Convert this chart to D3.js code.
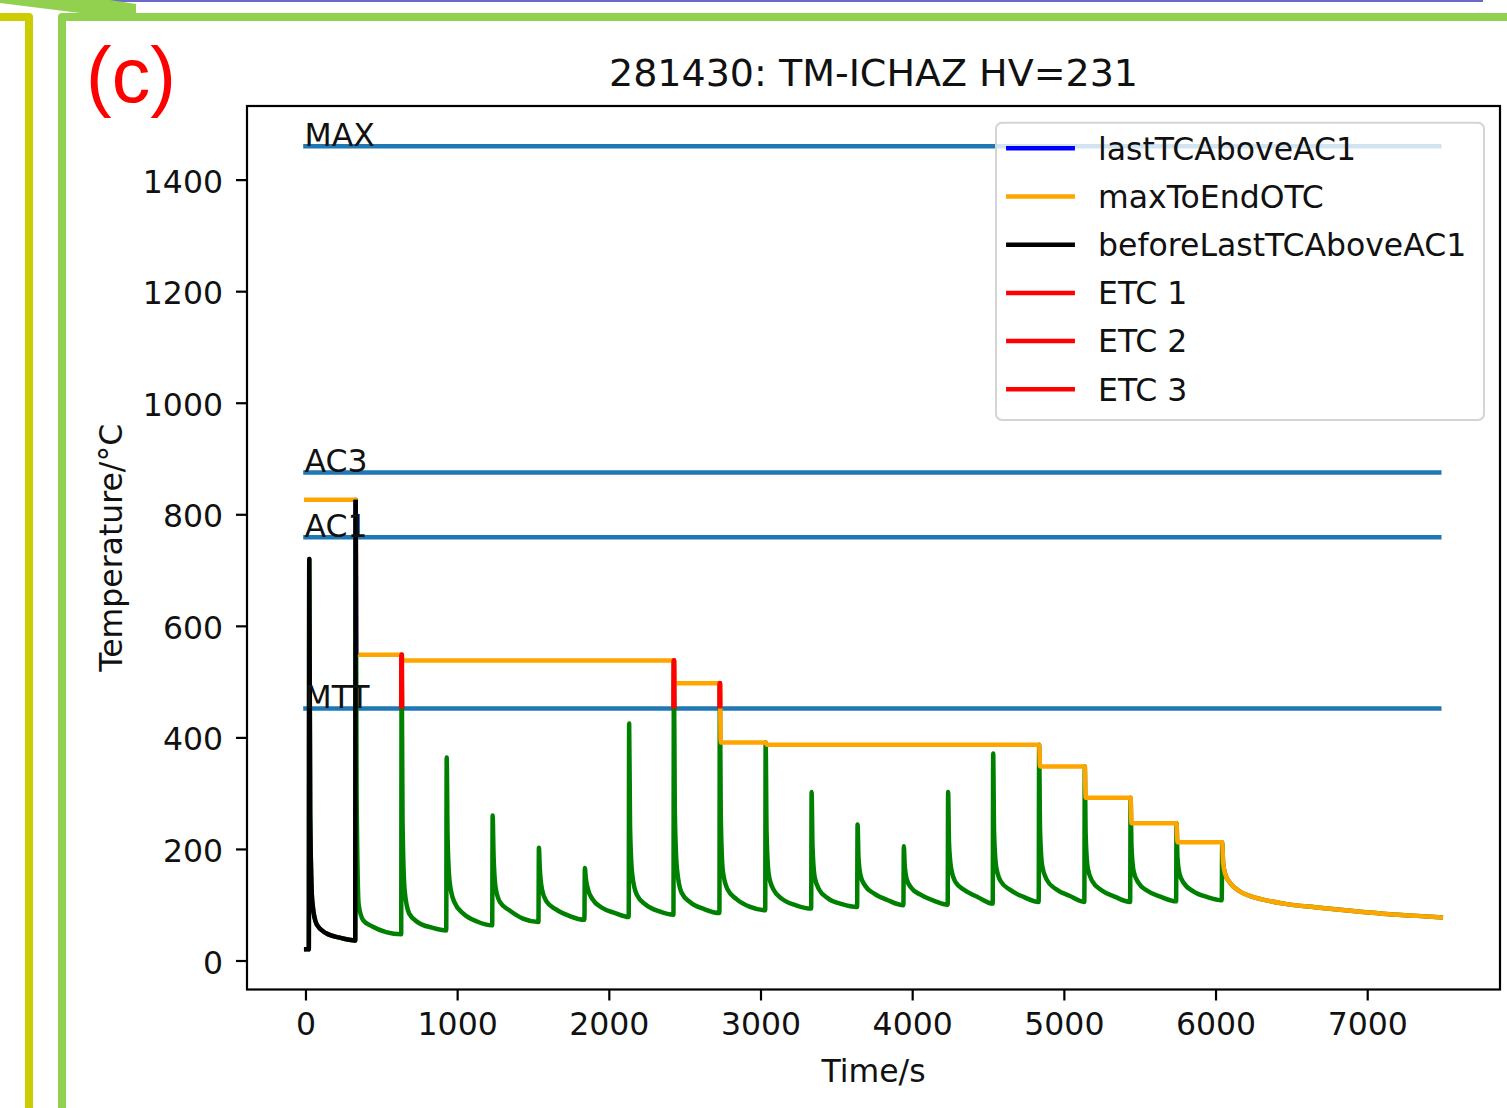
<!DOCTYPE html>
<html>
<head>
<meta charset="utf-8">
<script src="https://cdn.jsdelivr.net/npm/d3@7"></script>
<style>
  body { margin: 0; background: #ffffff; }
  #thermal_chart text { font-family: 'DejaVu Sans', sans-serif; fill: #111; }
</style>
</head>
<body>
<svg id="thermal_chart" width="1507" height="1108"></svg>
<script>
// ---- data ----
const chart_title = '281430: TM-ICHAZ HV=231';
const panel_tag = '(c)';

const start_time = -10;
const start_temp = 20;

// one entry per thermal cycle (spike)
const peak_time = [25, 331, 634, 931, 1234, 1539, 1842, 2134, 2429, 2732, 3034, 3337, 3640, 3945, 4237, 4534, 4837, 5138, 5440, 5743, 6044];
const peak_temp = [720, 826, 548, 364, 260, 202, 166, 425, 538, 497, 391, 302, 244, 205, 302, 371, 387, 348, 292, 246, 212];
const rise_temp = [20, 36, 47, 54, 63, 69, 73, 78, 82, 85, 90, 93, 96, 99, 100, 102, 105, 105, 105, 106, 108];

// cooling after each peak, sampled at these seconds after the peak
const decay_offset = [6, 20, 50, 110, 200];
const decay_temp = [
    [260, 105, 64, 49, 41],
    [300, 100, 72, 61, 51],
    [250, 125, 84, 68, 59],
    [220, 140, 105, 84, 70],
    [190, 130, 104, 90, 75],
    [165, 128, 106, 92, 80],
    [148, 128, 110, 95, 85],
    [240, 155, 118, 100, 88],
    [270, 165, 122, 104, 92],
    [260, 160, 128, 110, 96],
    [230, 155, 128, 110, 99],
    [205, 150, 127, 111, 101],
    [185, 152, 134, 120, 108],
    [170, 145, 130, 118, 107],
    [210, 165, 140, 126, 113],
    [230, 168, 142, 127, 114],
    [235, 170, 145, 128, 116],
    [225, 165, 142, 126, 114],
    [205, 160, 140, 125, 114],
    [185, 155, 138, 124, 114],
    [175, 155, 140, 125, 114]
];

// final cool down
const tail_time = [6300, 6450, 6670, 6890, 7100, 7330, 7500];
const tail_temp = [110, 102, 95, 89, 84, 80, 77];

// reference temperatures
const ref_names = ['MAX', 'AC3', 'AC1', 'MTT'];
const ref_temps = [1460, 875, 759, 452];
const ref_span = [0, 7475];

const etc_cycles = [2, 8, 9];
const last_ac1_cycle = 1;

const legend_labels = ['lastTCAboveAC1', 'maxToEndOTC', 'beforeLastTCAboveAC1', 'ETC 1', 'ETC 2', 'ETC 3'];
const legend_colors = ['#0000ff', '#ffa500', '#000000', '#ff0000', '#ff0000', '#ff0000'];

const x_ticks = [0, 1000, 2000, 3000, 4000, 5000, 6000, 7000];
const y_ticks = [0, 200, 400, 600, 800, 1000, 1200, 1400];

(() => {

const svg = d3.select('#thermal_chart');

// layout
const plot_left = 247, plot_right = 1500, plot_top = 106, plot_bottom = 989.5;
const font_size = 31.5;
const line_width = 4.5;

svg.append('rect').attr('width', 1507).attr('height', 1108).attr('fill', '#ffffff');

// ---- page decorations around the figure ----
svg.append('rect').attr('x', 110).attr('y', 0).attr('width', 1373).attr('height', 2).attr('fill', '#6a6acb');
svg.append('path')
    .attr('d', 'M0,0 L110,0 L136,4 L136,13 L80,13 L0,3 Z')
    .attr('fill', '#92d050');
svg.append('path')
    .attr('d', 'M62,1108 L62,17 L1507,17')
    .attr('fill', 'none').attr('stroke', '#92d050').attr('stroke-width', 8).attr('stroke-linejoin', 'round');
svg.append('path')
    .attr('d', 'M0,17 L29,17 L29,1108')
    .attr('fill', 'none').attr('stroke', '#cccc00').attr('stroke-width', 8).attr('stroke-linejoin', 'round');

svg.append('text')
    .attr('x', 86).attr('y', 102)
    .text(panel_tag)
    .style('font-family', "'Liberation Sans', Arial, sans-serif")
    .style('font-size', '77px')
    .style('fill', '#ff0000');

// ---- build the temperature history ----
let temp_points = [[start_time, start_temp]];
for (let i = 0; i < peak_time.length; i++) {
    temp_points.push([peak_time[i] - 3, rise_temp[i]]);
    temp_points.push([peak_time[i], peak_temp[i]]);
    decay_offset.forEach((off, j) => temp_points.push([peak_time[i] + off, decay_temp[i][j]]));
}
tail_time.forEach((t, i) => temp_points.push([t, tail_temp[i]]));

// max of the remaining history at each time
let max_to_end = [];
let running_max = -Infinity;
for (let i = temp_points.length - 1; i >= 0; i--) {
    running_max = Math.max(running_max, temp_points[i][1]);
    max_to_end.unshift([temp_points[i][0], running_max]);
}

function cycle_points(c) {
    return [
        [peak_time[c] - 3, rise_temp[c]],
        [peak_time[c], peak_temp[c]],
        [peak_time[c] + decay_offset[0], decay_temp[c][0]]
    ];
}

// ---- scales (5% margins like matplotlib) ----
let x_min = d3.min(temp_points, d => d[0]), x_max = d3.max(temp_points, d => d[0]);
let y_min = d3.min(temp_points, d => d[1]), y_max = d3.max(ref_temps);
let x_pad = (x_max - x_min) * 0.05, y_pad = (y_max - y_min) * 0.05;

let x_scale = d3.scaleLinear().domain([x_min - x_pad, x_max + x_pad]).range([plot_left, plot_right]);
let y_scale = d3.scaleLinear().domain([y_min - y_pad, y_max + y_pad]).range([plot_bottom, plot_top]);

let line = d3.line()
    .x(d => x_scale(d[0]))
    .y(d => y_scale(d[1]))
    .curve(d3.curveMonotoneX);

// level the max-to-end curve falls to after the last cycle above AC1
let after_last = peak_time[last_ac1_cycle] + decay_offset[0];
let last_level = max_to_end.find(d => d[0] == after_last)[1];

// clip regions
let defs = svg.append('defs');
defs.append('clipPath').attr('id', 'plot_clip')
    .append('rect')
    .attr('x', plot_left).attr('y', plot_top)
    .attr('width', plot_right - plot_left).attr('height', plot_bottom - plot_top);
defs.append('clipPath').attr('id', 'etc_clip')
    .append('rect')
    .attr('x', plot_left).attr('y', plot_top)
    .attr('width', plot_right - plot_left).attr('height', y_scale(ref_temps[3]) - plot_top);
defs.append('clipPath').attr('id', 'last_clip')
    .append('rect')
    .attr('x', plot_left).attr('y', plot_top)
    .attr('width', plot_right - plot_left).attr('height', y_scale(last_level) - plot_top);

let plot = svg.append('g').attr('clip-path', 'url(#plot_clip)');

// reference lines
plot.selectAll('.ref_line')
    .data(ref_temps)
    .enter()
    .append('line')
    .attr('x1', x_scale(ref_span[0]))
    .attr('x2', x_scale(ref_span[1]))
    .attr('y1', d => y_scale(d))
    .attr('y2', d => y_scale(d))
    .attr('stroke', '#1f77b4')
    .attr('stroke-width', line_width)
    .attr('stroke-linecap', 'square');

// whole history
plot.append('path')
    .attr('d', line(temp_points))
    .attr('fill', 'none').attr('stroke', '#008000')
    .attr('stroke-width', line_width).attr('stroke-linejoin', 'round');

// max to end
plot.append('path')
    .attr('d', line(max_to_end))
    .attr('fill', 'none').attr('stroke', '#ffa500')
    .attr('stroke-width', line_width).attr('stroke-linejoin', 'round');

// last thermal cycle above AC1 (falling edge)
plot.append('g').attr('clip-path', 'url(#last_clip)')
    .append('path')
    .attr('d', line(cycle_points(last_ac1_cycle).slice(1)))
    .attr('fill', 'none').attr('stroke', '#0000ff')
    .attr('stroke-width', line_width);

// before last TC above AC1
plot.append('path')
    .attr('d', line(temp_points.filter(d => d[0] <= peak_time[last_ac1_cycle])))
    .attr('fill', 'none').attr('stroke', '#000000')
    .attr('stroke-width', line_width).attr('stroke-linejoin', 'round');

// effective thermal cycles (portion above MTT)
let etc_group = plot.append('g').attr('clip-path', 'url(#etc_clip)');
etc_cycles.forEach(c => {
    etc_group.append('path')
        .attr('d', line(cycle_points(c)))
        .attr('fill', 'none').attr('stroke', '#ff0000')
        .attr('stroke-width', line_width + 0.5).attr('stroke-linejoin', 'round');
});

// reference labels
svg.selectAll('.ref_label')
    .data(ref_names)
    .enter()
    .append('text')
    .attr('x', x_scale(ref_span[0]) - 1)
    .attr('y', (d, i) => y_scale(ref_temps[i]))
    .text(d => d)
    .style('font-size', font_size + 'px');

// ---- axes ----
let x_axis = d3.axisBottom(x_scale).tickValues(x_ticks).tickFormat(d3.format('d'))
    .tickSize(11).tickSizeOuter(0).tickPadding(12);
let y_axis = d3.axisLeft(y_scale).tickValues(y_ticks).tickFormat(d3.format('d'))
    .tickSize(11).tickSizeOuter(0).tickPadding(13);

let gx = svg.append('g').attr('transform', `translate(0, ${plot_bottom})`).call(x_axis);
let gy = svg.append('g').attr('transform', `translate(${plot_left}, 0)`).call(y_axis);

[gx, gy].forEach(g => {
    g.select('.domain').remove();
    g.selectAll('.tick line').attr('stroke', '#000').attr('stroke-width', 2.2);
    g.selectAll('.tick text').style('font-size', font_size + 'px').attr('fill', '#111');
});
gy.selectAll('.tick text').attr('dy', '0.4em');

svg.append('rect')
    .attr('x', plot_left).attr('y', plot_top)
    .attr('width', plot_right - plot_left).attr('height', plot_bottom - plot_top)
    .attr('fill', 'none').attr('stroke', '#000').attr('stroke-width', 2.2);

// titles
svg.append('text')
    .attr('x', (plot_left + plot_right) / 2).attr('y', 86)
    .attr('text-anchor', 'middle')
    .text(chart_title)
    .style('font-size', '38px');

svg.append('text')
    .attr('x', (plot_left + plot_right) / 2).attr('y', 1082)
    .attr('text-anchor', 'middle')
    .text('Time/s')
    .style('font-size', font_size + 'px');

svg.append('text')
    .attr('transform', `translate(122, ${(plot_top + plot_bottom) / 2}) rotate(-90)`)
    .attr('text-anchor', 'middle')
    .text('Temperature/°C')
    .style('font-size', font_size + 'px');

// ---- legend ----
let legend = svg.append('g').attr('transform', 'translate(996, 122.7)');
legend.append('rect')
    .attr('width', 488).attr('height', 297.3)
    .attr('rx', 6).attr('ry', 6)
    .attr('fill', '#ffffff').attr('fill-opacity', 0.8)
    .attr('stroke', '#d4d4d4').attr('stroke-width', 2);

let rows = legend.selectAll('.legend_row')
    .data(legend_labels)
    .enter()
    .append('g')
    .attr('transform', (d, i) => `translate(0, ${25.6 + i * 48.2})`);

rows.append('line')
    .attr('x1', 12.3).attr('x2', 76.7)
    .attr('stroke', (d, i) => legend_colors[i])
    .attr('stroke-width', line_width)
    .attr('stroke-linecap', 'square');

rows.append('text')
    .attr('x', 102).attr('y', 11.3)
    .text(d => d)
    .style('font-size', font_size + 'px');

})();
</script>
</body>
</html>
